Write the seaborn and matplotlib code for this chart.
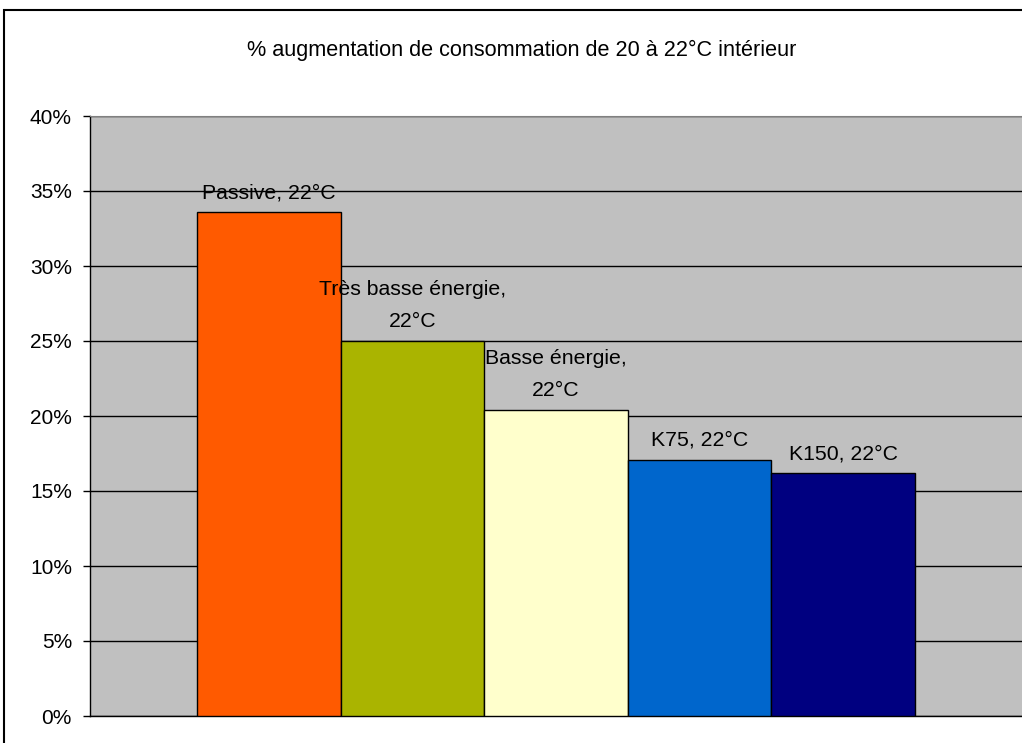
import pandas as pd
import numpy as np
import matplotlib
matplotlib.use("Agg")
import matplotlib.pyplot as plt
import seaborn as sns
from matplotlib.patches import Rectangle
from matplotlib.ticker import FuncFormatter

# data
categories = ["Passive, 22°C", "Très basse énergie,\n22°C", "Basse énergie,\n22°C",
              "K75, 22°C", "K150, 22°C"]
increase = [0.336, 0.250, 0.204, 0.171, 0.162]
colors = ["#FF5A00", "#AAB400", "#FFFFCC", "#0066CC", "#000080"]
yticks = [0.0, 0.05, 0.10, 0.15, 0.20, 0.25, 0.30, 0.35, 0.40]
title = "% augmentation de consommation de 20 à 22°C intérieur"

df = pd.DataFrame({"cat": categories, "val": increase})

sns.set_style("white")
plt.rcParams["font.family"] = ["Liberation Sans", "DejaVu Sans"]
plt.rcParams["text.color"] = "black"
plt.rcParams["ytick.color"] = "black"
plt.rcParams["ytick.labelcolor"] = "black"

fig = plt.figure(figsize=(10.22, 7.43), dpi=100)
ax = fig.add_axes([90 / 1022, 27 / 743, 1 - 90 / 1022, 600 / 743])
ax.set_facecolor("#C0C0C0")

sns.barplot(data=df, x="cat", y="val", hue="cat", palette=colors, legend=False,
            width=1.0, saturation=1, edgecolor="black", linewidth=1.0, ax=ax,
            zorder=3)

# labels above the bars
for i, (lab, v) in enumerate(zip(categories, increase)):
    ax.annotate(lab, xy=(i, v), xytext=(0, 7), textcoords="offset points",
                ha="center", va="bottom", fontsize=15.3, linespacing=1.9,
                color="black", zorder=5)

ax.set_xlim(-1.245, 5.245)
ax.set_ylim(0, 0.40)
ax.set_yticks(yticks)
ax.yaxis.set_major_formatter(FuncFormatter(lambda v, p: f"{v * 100:.0f}%"))
ax.tick_params(axis="y", direction="out", length=5, width=1, color="black",
               labelcolor="black", labelsize=15, pad=8, left=True)
ax.set_xticks([])
ax.set_xlabel("")
ax.set_ylabel("")
ax.grid(axis="y", color="black", linewidth=1.0, zorder=1)
ax.set_axisbelow(True)

for side in ["left", "bottom"]:
    ax.spines[side].set_color("black")
    ax.spines[side].set_linewidth(1.0)
ax.spines["top"].set_color("#808080")
ax.spines["right"].set_visible(False)

fig.text(522 / 1022, 1 - 50 / 743, title, ha="center", va="center",
         fontsize=15.6, color="black")

# outer chart frame (cropped on the right and bottom)
fig.patches.append(Rectangle((4 / 1022, -0.1), 1.2, (743 - 10) / 743 + 0.1,
                             transform=fig.transFigure, fill=False,
                             edgecolor="black", linewidth=1.5))

fig.savefig("out.png", dpi=100)
